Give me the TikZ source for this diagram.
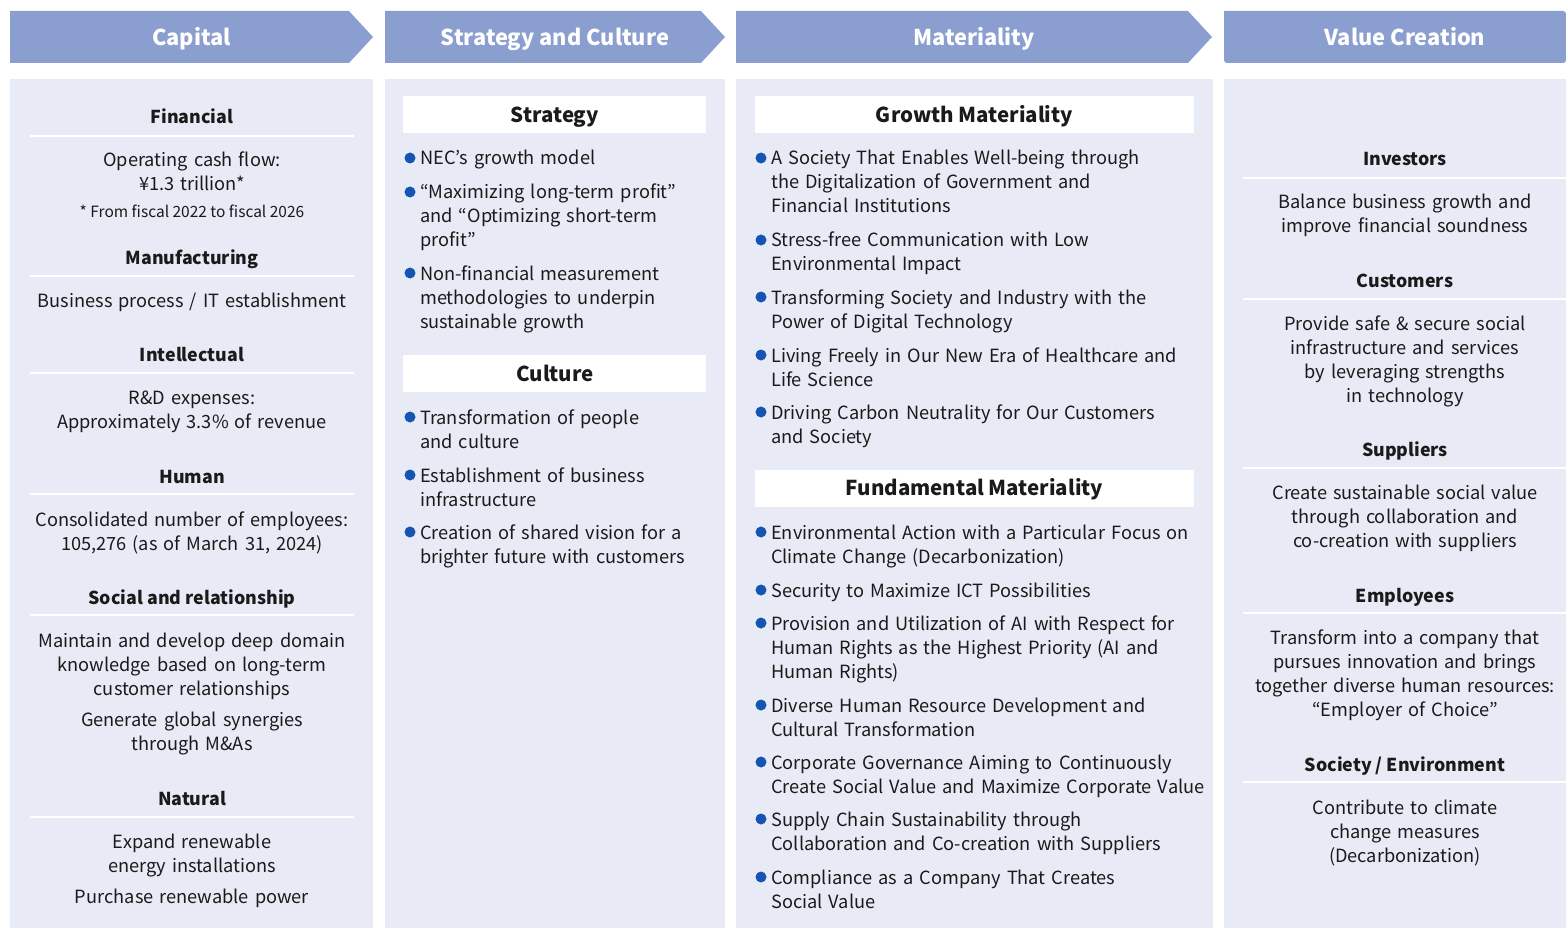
\documentclass[tikz,border=0pt]{standalone}
\usepackage{fontspec}
\setmainfont{Noto Sans CJK JP}

\definecolor{hdrblue}{RGB}{138,158,207}
\definecolor{panelblue}{RGB}{232,234,246}
\definecolor{dotblue}{RGB}{22,84,178}
\definecolor{txt}{RGB}{26,26,26}

\tikzset{
	hdr/.style={fill=hdrblue},
	hdrtext/.style={text=white, anchor=base, inner sep=0pt, font=\fontsize{21.8}{26}\selectfont\bfseries},
	panel/.style={fill=panelblue},
	wbox/.style={fill=white},
	boxtitle/.style={text=txt, anchor=base, inner sep=0pt, font=\fontsize{20.5}{24}\selectfont\bfseries},
	title/.style={text=txt, anchor=base, inner sep=0pt, font=\fontsize{17.8}{24}\selectfont\bfseries},
	body/.style={text=txt, anchor=base, inner sep=0pt, text width=340pt, align=center, font=\fontsize{18.2}{24}\selectfont},
	note/.style={text=txt, anchor=base, inner sep=0pt, font=\fontsize{15.5}{20}\selectfont},
	item/.style={text=txt, anchor=base west, inner sep=0pt, text width=470pt, align=left, font=\fontsize{18.2}{24}\selectfont},
	sepline/.style={draw=white, line width=1.5pt},
	bulletdot/.style={fill=dotblue}
}

\begin{document}
\begin{tikzpicture}[x=1pt, y=-1pt]
	\useasboundingbox (0,0) rectangle (1566,928);

	% headers
	\fill[hdr] (10,11) -- (349,11) -- (373,37) -- (349,63) -- (10,63) -- cycle;
	\fill[hdr] (385,11) -- (701,11) -- (725,37) -- (701,63) -- (385,63) -- cycle;
	\fill[hdr] (736,11) -- (1188,11) -- (1212,37) -- (1188,63) -- (736,63) -- cycle;
	\fill[hdr, rounded corners=3pt] (1224,11) -- (1566,11) -- (1566,63) -- (1224,63) [sharp corners] -- cycle;
	\node[hdrtext] (hcap) at (191.5,45.5) {Capital};
	\node[hdrtext] (hstrat) at (555,45.5) {Strategy and Culture};
	\node[hdrtext] (hmat) at (974,45.5) {Materiality};
	\node[hdrtext] (hval) at (1405,45.5) {Value Creation};

	% panels
	\fill[panel] (10,79) rectangle (373,928);
	\fill[panel] (385,79) rectangle (725,928);
	\fill[panel] (736,79) rectangle (1213,928);
	\fill[panel] (1224,79) rectangle (1566,928);

	% capital
	\node[title] (fin) at (192,124) {Financial};
	\draw[sepline] (30,136) -- (354,136);
	\node[body] (fintx) at (192,167) {Operating cash flow:\\ ¥1.3 trillion*};
	\node[note] (finnote) at (192,218) {* From fiscal 2022 to fiscal 2026};
	\node[title] (manu) at (192,264) {Manufacturing};
	\draw[sepline] (30,276) -- (354,276);
	\node[body] (manutx) at (192,307) {Business process / IT establishment};
	\node[title] (intel) at (192,361) {Intellectual};
	\draw[sepline] (30,373) -- (354,373);
	\node[body] (inteltx) at (192,404) {R\&D expenses:\\ Approximately 3.3\% of revenue};
	\node[title] (hum) at (192,483) {Human};
	\draw[sepline] (30,494) -- (354,494);
	\node[body] (humtx) at (192,526) {Consolidated number of employees:\\ 105,276 (as of March 31, 2024)};
	\node[title] (soc) at (192,604) {Social and relationship};
	\draw[sepline] (30,615) -- (354,615);
	\node[body] (soctx) at (192,647) {Maintain and develop deep domain\\ knowledge based on long-term\\ customer relationships};
	\node[body] (soctxb) at (192,726) {Generate global synergies\\ through M\&As};
	\node[title] (nat) at (192,805) {Natural};
	\draw[sepline] (30,817) -- (354,817);
	\node[body] (nattx) at (192,848) {Expand renewable\\ energy installations};
	\node[body] (nattxb) at (192,903) {Purchase renewable power};

	% strategy and culture
	\fill[wbox] (403,96) rectangle (706,133);
	\node[boxtitle] (strat) at (555,122.5) {Strategy};
	\fill[bulletdot] (410,158) circle (5.5pt);
	\node[item] (st1) at (420,165) {NEC’s growth model};
	\fill[bulletdot] (410,192) circle (5.5pt);
	\node[item] (st2) at (420,199) {“Maximizing long-term profit”\\ and “Optimizing short-term\\ profit”};
	\fill[bulletdot] (410,273) circle (5.5pt);
	\node[item] (st3) at (420,280) {Non-financial measurement\\ methodologies to underpin\\ sustainable growth};
	\fill[wbox] (403,355) rectangle (706,392);
	\node[boxtitle] (cult) at (555,381) {Culture};
	\fill[bulletdot] (410,417) circle (5.5pt);
	\node[item] (cu1) at (420,424) {Transformation of people\\ and culture};
	\fill[bulletdot] (410,475) circle (5.5pt);
	\node[item] (cu2) at (420,482) {Establishment of business\\ infrastructure};
	\fill[bulletdot] (410,532) circle (5.5pt);
	\node[item] (cu3) at (420,539) {Creation of shared vision for a\\ brighter future with customers};

	% materiality
	\fill[wbox] (755,96) rectangle (1194,133);
	\node[boxtitle] (grow) at (974.5,122.5) {Growth Materiality};
	\fill[bulletdot] (761,158) circle (5.5pt);
	\node[item] (gm1) at (771,165) {A Society That Enables Well-being through\\ the Digitalization of Government and\\ Financial Institutions};
	\fill[bulletdot] (761,240) circle (5.5pt);
	\node[item] (gm2) at (771,247) {Stress-free Communication with Low\\ Environmental Impact};
	\fill[bulletdot] (761,297) circle (5.5pt);
	\node[item] (gm3) at (771,304) {Transforming Society and Industry with the\\ Power of Digital Technology};
	\fill[bulletdot] (761,355) circle (5.5pt);
	\node[item] (gm4) at (771,362) {Living Freely in Our New Era of Healthcare and\\ Life Science};
	\fill[bulletdot] (761,412) circle (5.5pt);
	\node[item] (gm5) at (771,419) {Driving Carbon Neutrality for Our Customers\\ and Society};
	\fill[wbox] (755,470) rectangle (1194,507);
	\node[boxtitle] (fund) at (974.5,495.5) {Fundamental Materiality};
	\fill[bulletdot] (761,532) circle (5.5pt);
	\node[item] (fm1) at (771,539) {Environmental Action with a Particular Focus on\\ Climate Change (Decarbonization)};
	\fill[bulletdot] (761,590) circle (5.5pt);
	\node[item] (fm2) at (771,597) {Security to Maximize ICT Possibilities};
	\fill[bulletdot] (761,623) circle (5.5pt);
	\node[item] (fm3) at (771,630) {Provision and Utilization of AI with Respect for\\ Human Rights as the Highest Priority (AI and\\ Human Rights)};
	\fill[bulletdot] (761,705) circle (5.5pt);
	\node[item] (fm4) at (771,712) {Diverse Human Resource Development and\\ Cultural Transformation};
	\fill[bulletdot] (761,762) circle (5.5pt);
	\node[item] (fm5) at (771,769) {Corporate Governance Aiming to Continuously\\ Create Social Value and Maximize Corporate Value};
	\fill[bulletdot] (761,819) circle (5.5pt);
	\node[item] (fm6) at (771,826) {Supply Chain Sustainability through\\ Collaboration and Co-creation with Suppliers};
	\fill[bulletdot] (761,877) circle (5.5pt);
	\node[item] (fm7) at (771,884) {Compliance as a Company That Creates\\ Social Value};

	% value creation
	\node[title] (inv) at (1405,166) {Investors};
	\draw[sepline] (1243,178) -- (1566,178);
	\node[body] (invtx) at (1405,209) {Balance business growth and\\ improve financial soundness};
	\node[title] (cust) at (1405,287) {Customers};
	\draw[sepline] (1243,299) -- (1566,299);
	\node[body] (custtx) at (1405,330) {Provide safe \& secure social\\ infrastructure and services\\ by leveraging strengths\\ in technology};
	\node[title] (supp) at (1405,456) {Suppliers};
	\draw[sepline] (1243,468) -- (1566,468);
	\node[body] (supptx) at (1405,499) {Create sustainable social value\\ through collaboration and\\ co-creation with suppliers};
	\node[title] (empl) at (1405,602) {Employees};
	\draw[sepline] (1243,613) -- (1566,613);
	\node[body] (empltx) at (1405,644) {Transform into a company that\\ pursues innovation and brings\\ together diverse human resources:\\ “Employer of Choice”};
	\node[title] (socenv) at (1405,771) {Society / Environment};
	\draw[sepline] (1243,782) -- (1566,782);
	\node[body] (socenvtx) at (1405,814) {Contribute to climate\\ change measures\\ (Decarbonization)};
\end{tikzpicture}
\end{document}
